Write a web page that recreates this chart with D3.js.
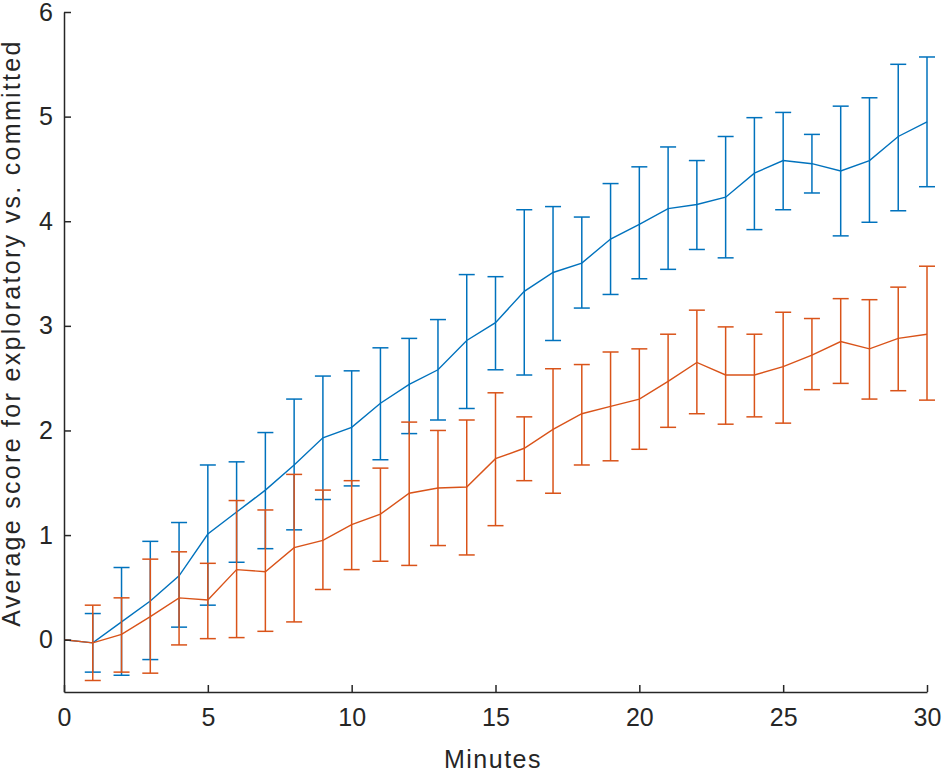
<!DOCTYPE html>
<html>
    <head>
        <meta charset="utf-8">
        <style>
            body { margin: 0; background: #fff; }
            text { font-family: "Liberation Sans", Arial, sans-serif; fill: #262626; }
        </style>
    </head>
    <body>
        <script src="https://cdnjs.cloudflare.com/ajax/libs/d3/7.8.5/d3.min.js"></script>
        <script>

            // minutes 0..30
            var minutes = d3.range(0, 31);

            // exploratory (blue): mean, lower and upper ends of the error bars
            var blueMean = [0, -0.03, 0.17, 0.37, 0.61, 1.01, 1.22, 1.43, 1.67, 1.93, 2.03,
                            2.26, 2.44, 2.58, 2.86, 3.03, 3.33, 3.51, 3.60, 3.83, 3.97,
                            4.12, 4.16, 4.23, 4.46, 4.58, 4.55, 4.48, 4.58, 4.81, 4.95];
            var blueLow  = [0, -0.31, -0.34, -0.19, 0.12, 0.33, 0.74, 0.87, 1.05, 1.34, 1.47,
                            1.72, 1.97, 2.10, 2.21, 2.58, 2.53, 2.86, 3.17, 3.30, 3.45,
                            3.54, 3.73, 3.65, 3.92, 4.11, 4.27, 3.86, 3.99, 4.10, 4.33];
            var blueHigh = [0, 0.25, 0.69, 0.94, 1.12, 1.67, 1.70, 1.98, 2.30, 2.52, 2.57,
                            2.79, 2.88, 3.06, 3.49, 3.47, 4.11, 4.14, 4.04, 4.36, 4.52,
                            4.71, 4.58, 4.81, 4.99, 5.04, 4.83, 5.10, 5.18, 5.50, 5.57];

            // committed (orange)
            var orangeMean = [0, -0.03, 0.05, 0.22, 0.40, 0.38, 0.67, 0.65, 0.88, 0.95, 1.10,
                              1.20, 1.40, 1.45, 1.46, 1.73, 1.83, 2.01, 2.16, 2.23, 2.30,
                              2.47, 2.65, 2.53, 2.53, 2.61, 2.72, 2.85, 2.78, 2.88, 2.92];
            var orangeLow  = [0, -0.39, -0.31, -0.32, -0.05, 0.01, 0.02, 0.08, 0.17, 0.48, 0.67,
                              0.75, 0.71, 0.90, 0.81, 1.09, 1.52, 1.40, 1.67, 1.71, 1.82,
                              2.03, 2.16, 2.06, 2.13, 2.07, 2.39, 2.45, 2.30, 2.38, 2.29];
            var orangeHigh = [0, 0.33, 0.40, 0.77, 0.84, 0.73, 1.33, 1.24, 1.58, 1.43, 1.52,
                              1.64, 2.08, 2.00, 2.10, 2.36, 2.13, 2.59, 2.63, 2.75, 2.78,
                              2.92, 3.15, 2.99, 2.92, 3.13, 3.07, 3.26, 3.25, 3.37, 3.57];

            var xTicks = [0, 5, 10, 15, 20, 25, 30];
            var yTicks = [0, 1, 2, 3, 4, 5, 6];

            var width = 950, height = 776;

            var svg = d3.select("body")
                    .append("svg")
                    .attr("width", width)
                    .attr("height", height);

            var x = d3.scaleLinear().domain([0, 30]).range([64, 927]);
            var y = d3.scaleLinear().domain([-0.5, 6]).range([692, 12]);

            function series(mean, low, high) {
              return minutes.map(function(m, i) {
                return {x: m, y: mean[i], lo: low[i], hi: high[i]};
              });
            }

            var groups = [
              {color: "#0072BD", data: series(blueMean, blueLow, blueHigh)},
              {color: "#D95319", data: series(orangeMean, orangeLow, orangeHigh)}
            ];

            var line = d3.line()
                    .x(function(d) { return x(d.x); })
                    .y(function(d) { return y(d.y); });

            var cap = 8;

            groups.forEach(function(g) {
              var gg = svg.append("g")
                      .attr("stroke", g.color)
                      .attr("fill", "none");

              var bars = g.data.filter(function(d) { return d.hi > d.lo; });

              gg.selectAll("line.v")
                      .data(bars)
                      .enter()
                      .append("line")
                      .attr("x1", function(d) { return x(d.x); })
                      .attr("x2", function(d) { return x(d.x); })
                      .attr("y1", function(d) { return y(d.lo); })
                      .attr("y2", function(d) { return y(d.hi); })
                      .attr("stroke-width", 1.5);

              ["lo", "hi"].forEach(function(k) {
                gg.selectAll("line." + k)
                        .data(bars)
                        .enter()
                        .append("line")
                        .attr("x1", function(d) { return x(d.x) - cap; })
                        .attr("x2", function(d) { return x(d.x) + cap; })
                        .attr("y1", function(d) { return y(d[k]); })
                        .attr("y2", function(d) { return y(d[k]); })
                        .attr("stroke-width", 1.5);
              });

              gg.append("path")
                      .datum(g.data)
                      .attr("d", line)
                      .attr("stroke-width", 1.4);
            });

            // axes, ticks pointing inward
            var xAxis = svg.append("g")
                    .attr("transform", "translate(0," + y(-0.5) + ")")
                    .call(d3.axisBottom(x).tickValues(xTicks).tickFormat(d3.format("d"))
                          .tickSize(-7).tickSizeOuter(0).tickPadding(16));

            var yAxis = svg.append("g")
                    .attr("transform", "translate(" + x(0) + ",0)")
                    .call(d3.axisLeft(y).tickValues(yTicks).tickFormat(d3.format("d"))
                          .tickSize(-7).tickSizeOuter(0).tickPadding(11));

            [xAxis, yAxis].forEach(function(a) {
              a.select(".domain").attr("stroke", "#262626").attr("stroke-width", 1.5);
              a.selectAll(".tick line").attr("stroke", "#262626").attr("stroke-width", 1.5);
              a.selectAll(".tick text")
                      .attr("fill", "#262626")
                      .style("font-size", "25px")
                      .style("font-family", "'Liberation Sans', Arial, sans-serif");
            });

            svg.append("text")
                    .attr("x", 493)
                    .attr("y", 768)
                    .attr("text-anchor", "middle")
                    .style("font-size", "25px")
                    .style("letter-spacing", "1.5px")
                    .text("Minutes");

            svg.append("text")
                    .attr("transform", "translate(20,333) rotate(-90)")
                    .attr("text-anchor", "middle")
                    .style("font-size", "25px")
                    .style("letter-spacing", "2.3px")
                    .text("Average score for exploratory vs. committed");

        </script>
    </body>
</html>
